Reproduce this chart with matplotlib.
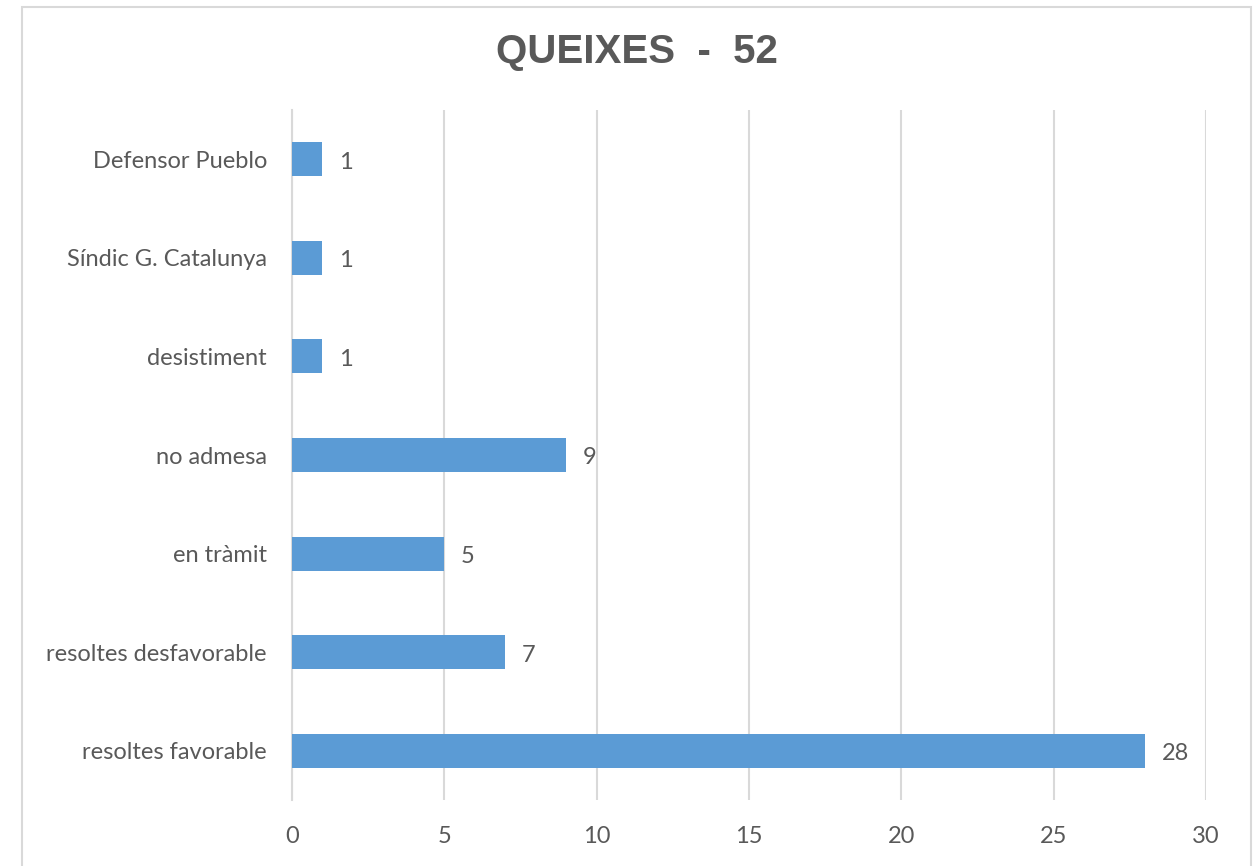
#! /usr/bin/env python3

import matplotlib.pyplot as plt
from matplotlib.patches import Rectangle

categories = ["resoltes favorable", "resoltes desfavorable", "en tràmit", "no admesa",
              "desistiment", "Síndic G. Catalunya", "Defensor Pueblo"]
values = [28, 7, 5, 9, 1, 1, 1]
xticks = [0, 5, 10, 15, 20, 25, 30]

grey = "#595959"
plt.rcParams["font.family"] = ["Lato", "DejaVu Sans"]

fig = plt.figure(figsize=(12.55, 8.66), dpi=100)
ax = fig.add_axes([292 / 1255, 1 - 800 / 866, (1206 - 292) / 1255, 690 / 866])

ypos = range(len(categories))
ax.barh(ypos, values, height=0.345, color="#5B9BD5", zorder=3)
for y, v in zip(ypos, values):
    ax.text(v + 0.55, y - 0.03, str(v), va="center", ha="left", fontsize=17, color=grey)

ax.set_xlim(0, 30)
ax.set_ylim(-0.5, len(categories) - 0.5)
ax.set_xticks(xticks)
ax.set_yticks(list(ypos))
ax.set_yticklabels(categories)
ax.tick_params(axis="both", length=0, labelsize=17, colors=grey)
ax.tick_params(axis="x", pad=19)
ax.tick_params(axis="y", pad=18)
ax.grid(axis="x", color="#d9d9d9", linewidth=1.5, zorder=0)
for s in ["top", "right", "bottom"]:
    ax.spines[s].set_visible(False)
ax.spines["left"].set_color("#d9d9d9")
ax.spines["left"].set_linewidth(1.5)

fig.text(637 / 1255, 1 - 52 / 866, "QUEIXES  -  52", ha="center", va="center",
         fontsize=29, fontweight="bold", color=grey, family=["Liberation Sans", "DejaVu Sans"])

fig.patches.append(Rectangle((22 / 1255, -0.01), (1251 - 22) / 1255, 1 - 7 / 866 + 0.01,
                             transform=fig.transFigure, fill=False,
                             edgecolor="#d9d9d9", linewidth=1.5))

plt.savefig("out.png", dpi=100)
